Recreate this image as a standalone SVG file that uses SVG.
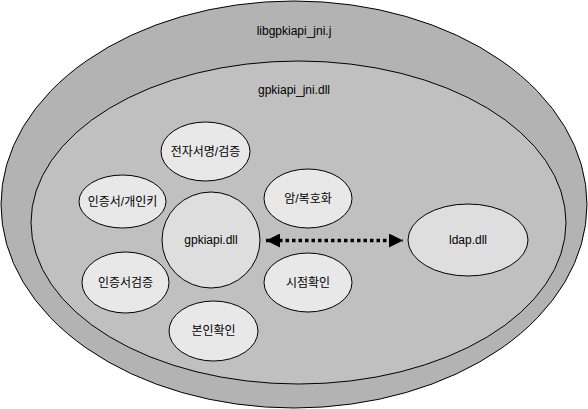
<svg xmlns="http://www.w3.org/2000/svg" width="588" height="409" viewBox="0 0 588 409">
<defs>
<style>
.e{stroke:#000;stroke-width:1}
.t{font-family:"Liberation Sans","Noto Sans CJK KR",sans-serif;font-size:12px;fill:#000;text-anchor:middle}
.n{fill:#e8e8e8}
.m{fill:#dedede}
</style>
<marker id="ah" viewBox="0 0 10 10" refX="10" refY="5" markerWidth="4" markerHeight="4" markerUnits="strokeWidth" orient="auto-start-reverse">
<path d="M0,0 L10,5 L0,10 Z" fill="#000"/>
</marker>
</defs>
<rect width="588" height="409" fill="#fff"/>
<g id="outer">
<ellipse class="e" cx="294" cy="204.5" rx="293" ry="203.5" fill="#b3b3b3"/>
<text class="t" x="294" y="35">libgpkiapi_jni.j</text>
</g>
<g id="inner">
<ellipse class="e" cx="298.5" cy="222.5" rx="267.5" ry="161.5" fill="#c0c0c0"/>
<text class="t" x="294" y="94">gpkiapi_jni.dll</text>
</g>
<g id="gpkiapi">
<ellipse class="e m" cx="211" cy="240" rx="49" ry="48"/>
<text class="t" x="211" y="244">gpkiapi.dll</text>
</g>
<g id="sign">
<ellipse class="e n" cx="205.5" cy="151.5" rx="44.5" ry="29.5"/>
<text class="t" x="205.5" y="156">전자서명/검증</text>
</g>
<g id="crypt">
<ellipse class="e n" cx="308" cy="198.5" rx="44" ry="29.5"/>
<text class="t" x="308" y="203">암/복호화</text>
</g>
<g id="time">
<ellipse class="e n" cx="308" cy="282.5" rx="44" ry="29.5"/>
<text class="t" x="308" y="287">시점확인</text>
</g>
<g id="ident">
<ellipse class="e n" cx="213.5" cy="331" rx="44.5" ry="30"/>
<text class="t" x="213.5" y="335">본인확인</text>
</g>
<g id="certkey">
<ellipse class="e n" cx="122.5" cy="201.5" rx="43.5" ry="26.5"/>
<text class="t" x="122.5" y="206">인증서/개인키</text>
</g>
<g id="certverify">
<ellipse class="e n" cx="125.5" cy="282.5" rx="43.5" ry="30.5"/>
<text class="t" x="125.5" y="287">인증서검증</text>
</g>
<g id="ldap">
<ellipse class="e m" cx="468" cy="240" rx="60" ry="36"/>
<text class="t" x="468" y="244">ldap.dll</text>
</g>
<g id="connectors">
<line x1="266" y1="240.5" x2="403" y2="240.5" stroke="#000" stroke-width="3.5" stroke-dasharray="3.5,3" marker-start="url(#ah)" marker-end="url(#ah)"/>
</g>
</svg>
